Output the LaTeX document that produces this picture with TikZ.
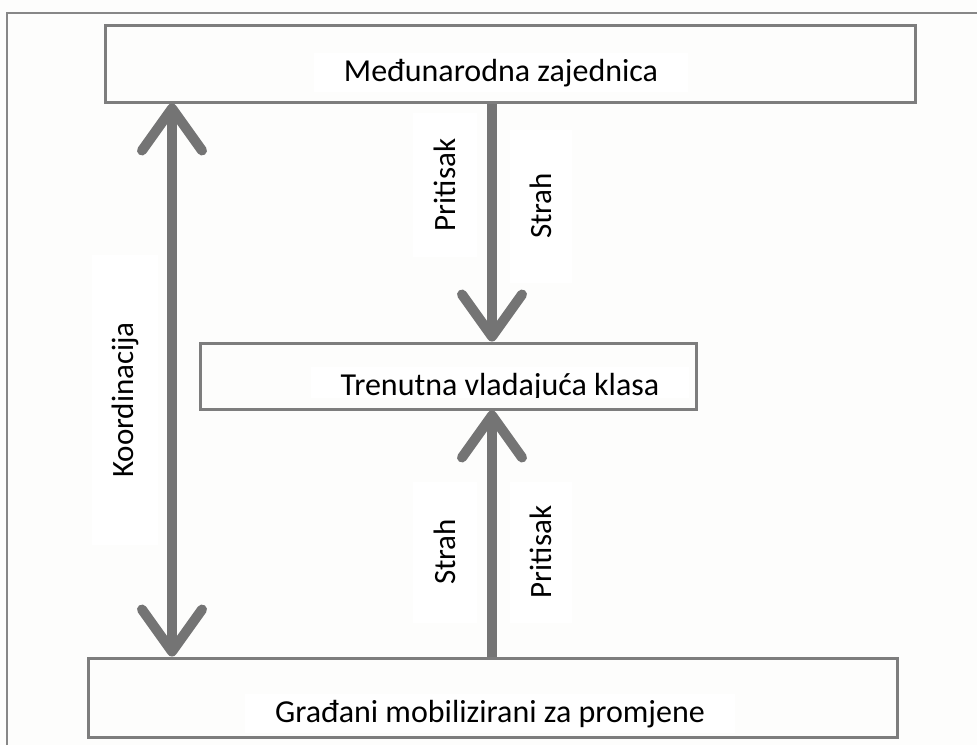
\documentclass[tikz,border=0pt]{standalone}
\usepackage{fontspec}
\setmainfont{Carlito}
\usetikzlibrary{arrows.meta}
\definecolor{pagebg}{RGB}{253,253,252}
\definecolor{boxline}{RGB}{125,125,125}
\definecolor{arrgray}{RGB}{116,116,116}
\definecolor{framegray}{RGB}{135,135,135}
\tikzset{
  box/.style={draw=boxline, line width=3pt, rectangle, inner sep=0pt},
  boxtext/.style={fill=white, inner xsep=30pt, inner ysep=6pt, font=\fontsize{32}{38}\selectfont, anchor=base},
  lbl/.style={fill=white, rotate=90, font=\fontsize{31}{37}\selectfont, inner sep=0pt},
  arr/.style={draw=arrgray, line width=10pt, -{Straight Barb[length=42pt,width=60pt,round]}},
  darr/.style={draw=arrgray, line width=10pt, {Straight Barb[length=42pt,width=60pt,round]}-{Straight Barb[length=42pt,width=60pt,round]}}
}
\begin{document}
\begin{tikzpicture}[x=1pt,y=-1pt]
\fill[pagebg] (0,0) rectangle (977,745);
\useasboundingbox (0,0) rectangle (977,745);
\draw[framegray, line width=2.5pt] (7,745) -- (7,13) -- (977,13);
% texts (under the borders)
\node[boxtext] (toptext) at (501,81) {Međunarodna zajednica};
\begin{scope}
\clip (0,0) rectangle (977,397);
\node[boxtext] (midtext) at (500,395) {Trenutna vladajuća klasa};
\end{scope}
\node[boxtext] (bottext) at (490,722) {Građani mobilizirani za promjene};
% boxes
\node[box, minimum width=810pt, minimum height=77pt] (top) at (510,63.5) {};
\node[box, minimum width=496pt, minimum height=66pt] (mid) at (448,376) {};
\node[box, minimum width=809pt, minimum height=79pt] (bot) at (492.5,697.5) {};
% labels
\node[lbl, minimum width=144pt, minimum height=64pt] (p1) at (445,185) {Pritisak};
\node[lbl, minimum width=153pt, minimum height=62pt] (s1) at (541,206) {Strah};
\node[lbl, minimum width=141pt, minimum height=64pt] (s2) at (445,552) {Strah};
\node[lbl, minimum width=141pt, minimum height=62pt] (p2) at (541,552) {Pritisak};
\node[lbl, minimum width=290pt, minimum height=66pt] (k) at (125,400) {Koordinacija};
% connectors
\coordinate (cx) at (492,0);
\coordinate (lx) at (172,0);
\draw[arr] (top.south -| cx) -- (mid.north -| cx);
\draw[arr] (bot.north -| cx) -- (mid.south -| cx);
\draw[darr] (top.south -| lx) -- (bot.north -| lx);
\end{tikzpicture}
\end{document}
